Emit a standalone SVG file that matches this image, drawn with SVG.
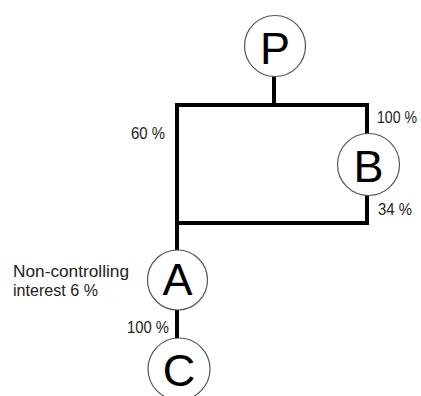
<svg xmlns="http://www.w3.org/2000/svg" width="421" height="396" viewBox="0 0 421 396">
  <style>
    .node circle { fill: #fff; stroke: #555; stroke-width: 1.2; }
    .node text { font-family: "Liberation Sans", Arial, sans-serif; font-size: 45px; fill: #000; text-anchor: middle; }
    .lbl { font-family: "Liberation Sans", Arial, sans-serif; font-size: 16px; fill: #222; }
    .link { fill: none; stroke: #000; stroke-width: 4; stroke-linecap: square; }
  </style>
  <rect width="421" height="396" fill="#fff"/>

  <!-- ownership lines -->
  <g id="connectors">
    <path class="link" d="M274 77 V105"/>
    <path class="link" d="M177 105 H367 V133"/>
    <path class="link" d="M367 196 V223 H177"/>
    <path class="link" d="M177 105 V250"/>
    <path class="link" d="M177 310 V338"/>
  </g>

  <g id="node-P" class="node">
    <circle cx="275" cy="46" r="30.5"/>
    <text x="275" y="64">P</text>
  </g>
  <g id="node-B" class="node">
    <circle cx="368.5" cy="164.5" r="31"/>
    <text x="368.5" y="181.5">B</text>
  </g>
  <g id="node-A" class="node">
    <circle cx="177.5" cy="280" r="30"/>
    <text x="177.5" y="295">A</text>
  </g>
  <g id="node-C" class="node">
    <circle cx="179" cy="369" r="31"/>
    <text x="179" y="386">C</text>
  </g>

  <g id="labels">
    <text class="lbl" x="131" y="139" textLength="34" lengthAdjust="spacingAndGlyphs">60 %</text>
    <text class="lbl" x="377" y="123" textLength="40" lengthAdjust="spacingAndGlyphs">100 %</text>
    <text class="lbl" x="378" y="215" textLength="34" lengthAdjust="spacingAndGlyphs">34 %</text>
    <text class="lbl" x="13" y="277" textLength="116" lengthAdjust="spacingAndGlyphs">Non-controlling</text>
    <text class="lbl" x="13" y="296" textLength="85" lengthAdjust="spacingAndGlyphs">interest 6 %</text>
    <text class="lbl" x="127" y="333" textLength="42" lengthAdjust="spacingAndGlyphs">100 %</text>
  </g>
</svg>
